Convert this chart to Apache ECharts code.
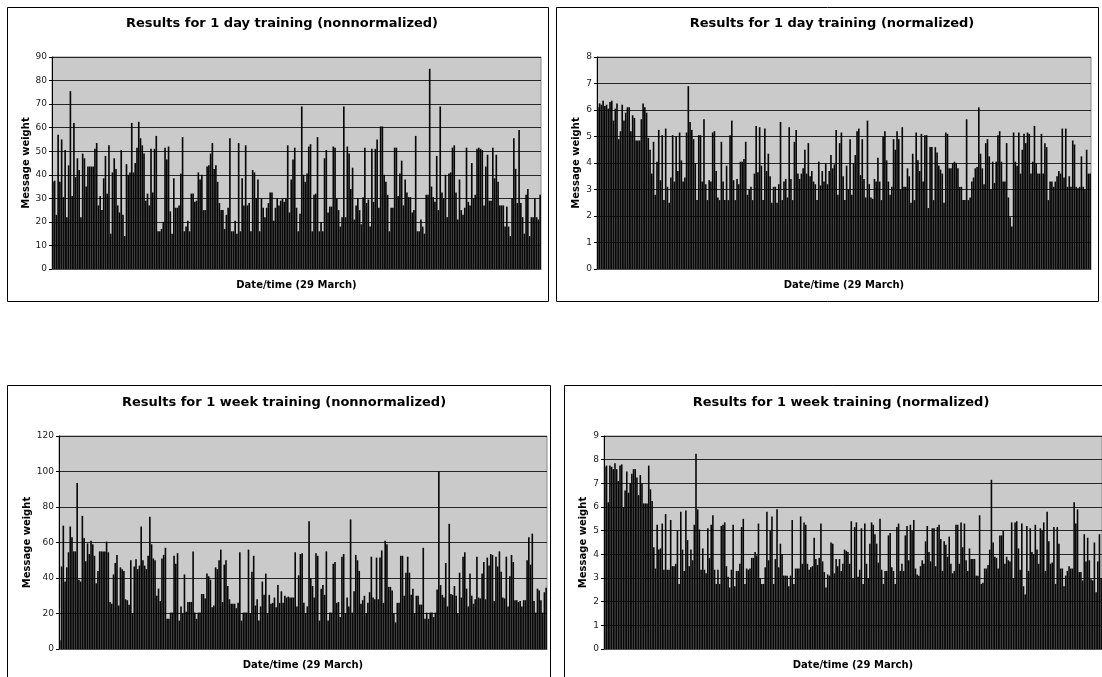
<!DOCTYPE html>
<html>
<head>
<meta charset="utf-8">
<script src="https://cdn.jsdelivr.net/npm/echarts@6/dist/echarts.min.js"></script>
<style>
html,body{margin:0;padding:0;background:#fff;}
#c{width:1102px;height:677px;}
</style>
</head>
<body>
<div id="c"></div>
<script>
// ---- data ----
var titles = [
  "Results for 1 day training (nonnormalized)",
  "Results for 1 day training (normalized)",
  "Results for 1 week training (nonnormalized)",
  "Results for 1 week training (normalized)"
];
var xAxisTitle = "Date/time (29 March)";
var yAxisTitle = "Message weight";

var dayNonNorm = [37,37.5,23,57,37,55,30.5,50.5,22,44,75.5,31,62,39,47,42,22,49,47,35,
43.5,43.5,43.5,43.5,51,53.5,27,31,25,38.5,48,32,52.5,15,41,47,42.5,27,24,50.5,
23,14,44.5,40,41,62,41,45,51.5,62.5,55.5,52.5,49,29,32,27,51,32.5,51,56.5,
16,16,17,20,51.5,46.5,52,24.5,15,38.5,26,26,27,40.5,56,16,18,20.5,16,32,
32,28.5,29,41,38,40,25,25,43.5,44,49,53.5,42.5,44,37,28,25,25,17,23,
26,55.5,16,16,20.5,15,53.5,16,38.5,27,52.5,27,28,16,42,41,30,38,16,30,
26,22,26,28,32.5,32.5,20.5,26,30,27,29,30,28.5,30,52.5,24,38,46.5,51.5,26,
16,23.5,69,40,37,40.5,52,53,16,31.5,32,56,16,20,16,47,50.5,24,26.5,26.5,
52,51.5,30,25,18,22,69,22,52,49,34,43,21,27,30,25,19,30.5,51.5,28,
29.5,18,51,28.5,51,55,26,60.5,60.5,40,37,31.5,16,26,26,51.5,51.5,31,40.5,46,
27,38,32.5,30.5,30.5,24,25,56.5,16,16,21,18,15,31.5,31.5,85,35,30.5,28.5,48,
25,69,32.5,30,40,22,40.5,41,51.5,52.5,32.5,21,38,25,23,26,51.5,28.5,27,45,
30,31.5,51,51.5,51,50.5,27,43.5,48.5,29,29,51.5,38.5,48.5,37,27,27,27,18,26.5,
18,14,30,55.5,42.5,28,59,28,22,15,31.5,34,14,22,22,30,22,21,31.5];

var dayNorm = [6.1,6.25,6.2,6.35,6.15,6.2,6.05,6.3,6.35,5.6,6.05,6.25,4.9,5.2,6.2,5.6,5.9,6.1,6.1,5.2,5.8,5.7,4.85,4.85,4.85,5.65,6.25,6.1,5.9,
4.95,4.5,3.6,4.8,2.8,4.05,5.25,3.35,
5.05,2.6,5.3,3.1,2.5,3.45,5.05,3.3,5.0,3.7,
5.15,4.1,3.3,3.45,5.15,6.9,5.55,5.25,4.9,4.0,
2.6,5.05,5.05,3.3,5.65,3.2,2.6,3.35,3.3,5.15,
5.2,3.7,2.7,2.6,4.8,3.3,2.6,3.9,2.6,5.05,
5.6,3.35,2.6,3.4,3.2,4.05,4.05,4.15,4.8,2.8,
3.0,3.1,2.6,3.6,5.4,3.65,5.35,3.9,2.6,5.3,
3.7,4.35,3.5,2.5,3.1,3.1,2.5,3.2,5.55,2.6,
3.3,3.4,2.7,5.35,3.4,2.6,4.8,5.25,3.6,3.4,
3.6,3.8,4.5,3.6,4.75,3.5,3.7,3.3,3.2,2.6,
4.05,3.15,3.7,3.3,4.0,3.2,3.7,4.3,3.8,3.95,
5.25,2.8,4.75,5.15,3.5,2.6,3.9,3.0,4.9,2.8,
4.0,4.3,5.2,5.3,3.55,4.9,3.4,2.7,5.6,3.2,
2.7,2.65,3.4,3.3,4.2,3.3,2.6,5.0,5.2,4.1,
3.3,2.8,3.1,4.9,4.5,5.2,4.9,3.0,5.35,3.1,
3.1,3.8,3.5,2.5,4.35,2.6,5.15,4.1,3.7,5.1,
3.3,5.05,5.05,2.3,4.6,4.6,2.6,4.6,4.4,3.9,
3.75,3.6,2.5,5.15,5.1,3.8,3.8,4.0,4.05,4.0,
3.8,3.1,3.1,2.6,2.6,5.65,2.6,2.7,3.3,3.45,
3.8,3.85,6.1,4.35,3.8,3.2,4.75,4.9,4.25,3.0,
4.05,3.25,4.05,5.05,5.2,4.05,3.3,3.3,4.75,2.7,
1.95,1.6,5.15,4.05,3.9,5.15,3.6,4.5,5.1,4.75,
5.15,5.1,3.6,4.05,5.4,4.0,3.6,3.6,5.1,3.6,
4.75,4.6,2.6,3.3,3.3,3.1,3.3,3.5,3.7,3.6,
5.3,3.45,5.3,3.1,3.5,3.1,4.85,4.7,3.1,3.05,
3.1,4.25,3.1,3.0,4.5,3.6,3.6];

var weekNonNorm = [5,46.5,69.5,38,46,54.5,69,63,55,55,93.5,39,38,75,62.5,49.5,59.5,53.5,61,59,52.5,37,44,55,55,55,55,60.5,54.5,26.5,25.5,42,48.5,53,24.5,46,45,44,28,27.5,25,50,20,46.5,50.5,45,47,69,50,47,45,52.5,74.5,59,51,50,30,34,27,51,53,57,17,17,20.5,20.5,52.5,48,54,16,24,20,42,21,26.5,26.5,26.5,55,20.5,17,20.5,20.5,31,31,28.5,42.5,41,39,23.5,24.5,46,45,50,56,26.5,47.5,50,35.5,28,25.5,25.5,25.5,23,26,54.5,16,20.5,20.5,20.5,56,20,43.5,52.5,24.5,28,16,24,38,30.5,42.5,20,30.5,25.5,26,29,23.5,36,26,32.5,26,30,29,29.5,29,29,29,54.5,24,41.5,53.5,54,26,20,24,72,40,35.5,29,54,52.5,16,34,36,30.5,55,16,20.5,20.5,48,49,26,26.5,18,52,53.5,20,29,24,73,20.5,32.5,53,50,44,25.5,27.5,30,20,26,32,52,29,28,51.5,28,51.5,55.5,26,61,59,35,35,33,20,15,26,26,52.5,52.5,30,43,52,43,30.5,34,20,30,30,25,25,57,17,20.5,17,20.5,20.5,18,20.5,33.5,100,36,30.5,29,48.5,24,70.5,31,30.5,35.5,30,20,43,29,52,54.5,34,24,42.5,30,25.5,28,52,29,28.5,42.5,49,28,51.5,47,53.5,53,27,52,46.5,55,43.5,29,28.5,52,24,41,53,49,27.5,27.5,26.5,27,24,27.5,27.5,50,63,47.5,65,27,20.5,34,33,27.5,20.5,32,34.5];

var weekNorm = [7.7,7.75,6.2,7.75,7.7,7.6,7.85,7.6,7.1,7.75,7.8,6.0,6.7,7.5,6.6,7.0,7.4,7.6,7.6,7.25,6.5,7.35,7.0,6.15,6.15,6.15,7.75,6.75,6.25,
4.3,3.4,5.25,4.2,4.25,5.3,3.35,5.7,3.35,3.35,5.45,3.5,3.5,3.6,5.0,2.75,5.8,4.2,3.3,5.85,4.6,3.5,4.2,3.75,5.25,8.25,5.9,5.05,3.35,4.25,3.35,3.2,5.1,3.85,5.25,5.65,3.35,2.75,3.35,2.75,5.2,5.25,5.35,3.5,3.05,2.6,3.35,5.25,2.65,3.3,3.3,3.6,5.15,5.5,2.75,3.4,3.35,3.4,3.85,3.85,4.1,3.95,5.3,3.0,2.75,2.75,3.45,5.8,3.75,5.0,5.6,2.75,3.8,5.9,3.45,4.45,4.0,3.1,3.1,3.1,2.65,3.1,5.45,2.75,3.4,3.4,3.4,5.6,3.6,5.35,5.25,3.6,3.35,3.45,3.5,4.7,3.8,3.55,3.85,5.3,3.7,3.25,2.6,3.15,3.1,4.5,4.45,3.2,3.8,3.5,3.8,3.3,3.6,4.2,4.15,4.1,3.6,5.4,3.0,5.15,5.35,3.05,3.35,5.1,2.75,5.3,3.6,3.0,4.45,5.35,5.25,4.85,4.45,3.65,5.5,3.35,2.75,3.3,3.3,4.8,4.9,3.45,3.3,2.75,5.15,5.3,3.3,3.6,3.3,4.8,5.2,3.75,5.25,5.0,5.45,3.4,3.15,3.1,3.5,3.75,3.6,4.55,5.2,4.1,3.7,5.1,5.1,3.5,5.15,5.25,4.65,3.3,4.55,4.4,3.9,4.75,3.6,3.2,3.3,5.25,5.25,3.6,5.35,4.3,5.3,3.75,3.3,4.25,3.8,3.8,3.8,3.1,3.1,5.65,2.75,2.8,3.4,3.4,3.55,4.2,7.15,4.5,3.9,3.85,3.4,4.8,4.8,5.0,3.6,3.9,3.75,3.7,5.35,3.0,5.35,5.4,4.25,3.35,5.3,2.65,2.3,5.2,3.3,5.1,4.1,4.0,5.25,4.2,3.6,5.1,5.0,5.35,3.3,5.8,4.55,3.6,3.65,5.15,2.75,5.15,4.45,3.4,3.4,2.65,3.1,3.3,3.5,3.4,3.4,6.2,5.3,5.9,3.25,3.25,2.9,4.85,3.7,4.7,3.75,2.95,2.9,4.5,2.4,3.7,4.85,3.0];

var yMax = [90, 8, 120, 9];
var yStep = [10, 1, 20, 1];
var seriesData = [dayNonNorm, dayNorm, weekNonNorm, weekNorm];

// ---- layout / style ----
var grids = [
  {left: 52,  top: 57,  width: 489, height: 212},
  {left: 597, top: 57,  width: 494, height: 212},
  {left: 59,  top: 436, width: 488, height: 213},
  {left: 604, top: 436, width: 503, height: 213}
];
var boxes = [
  {x: 7.5,   y: 7.5,   w: 541, h: 294},
  {x: 556.5, y: 7.5,   w: 542, h: 294},
  {x: 7.5,   y: 385.5, w: 543, h: 320},
  {x: 564.5, y: 385.5, w: 545, h: 320}
];
var titleCenters = [[277, 12], [827, 12], [279, 391], [836, 391]];
var yNameGap = [21, 16, 27, 16];

var FONT = "'DejaVu Sans', Verdana, sans-serif";

var option = {
  animation: false,
  backgroundColor: '#ffffff',
  title: titles.map(function (t, i) {
    return {
      text: t, left: titleCenters[i][0], top: titleCenters[i][1], textAlign: 'center',
      textStyle: {fontFamily: FONT, fontSize: 13, fontWeight: 'bold', color: '#000'}
    };
  }),
  graphic: boxes.map(function (b) {
    return {type: 'rect', shape: {x: b.x, y: b.y, width: b.w, height: b.h}, z: -10,
      style: {fill: 'none', stroke: '#000', lineWidth: 1}};
  }),
  grid: grids.map(function (g) {
    return Object.assign({show: true, backgroundColor: '#cacaca', borderColor: '#8a8a8a', borderWidth: 1, containLabel: false}, g);
  }),
  xAxis: grids.map(function (g, i) {
    return {
      type: 'category', gridIndex: i,
      name: xAxisTitle, nameLocation: 'middle', nameGap: 11,
      nameTextStyle: {fontFamily: FONT, fontSize: 10, fontWeight: 'bold', color: '#000'},
      axisLine: {show: true, lineStyle: {color: '#555', width: 1}},
      axisTick: {show: false}, axisLabel: {show: false}, splitLine: {show: false}
    };
  }),
  yAxis: grids.map(function (g, i) {
    return {
      type: 'value', gridIndex: i, min: 0, max: yMax[i], interval: yStep[i],
      name: yAxisTitle, nameLocation: 'middle', nameGap: yNameGap[i], nameRotate: 90,
      nameTextStyle: {fontFamily: FONT, fontSize: 10, fontWeight: 'bold', color: '#000'},
      axisLine: {show: true, lineStyle: {color: '#000', width: 1}},
      axisTick: {show: true, length: 3, lineStyle: {color: '#000'}},
      axisLabel: {fontFamily: FONT, fontSize: 9, color: '#222', margin: 5},
      splitLine: {show: true, lineStyle: {color: '#262626', width: 1}}
    };
  }),
  series: seriesData.map(function (d, i) {
    return {
      type: 'bar', xAxisIndex: i, yAxisIndex: i, data: d,
      barCategoryGap: '6%',
      itemStyle: {color: '#080808'},
      silent: true
    };
  })
};

var chart = echarts.init(document.getElementById('c'), null, {renderer: 'canvas'});
chart.setOption(option);
</script>
</body>
</html>
